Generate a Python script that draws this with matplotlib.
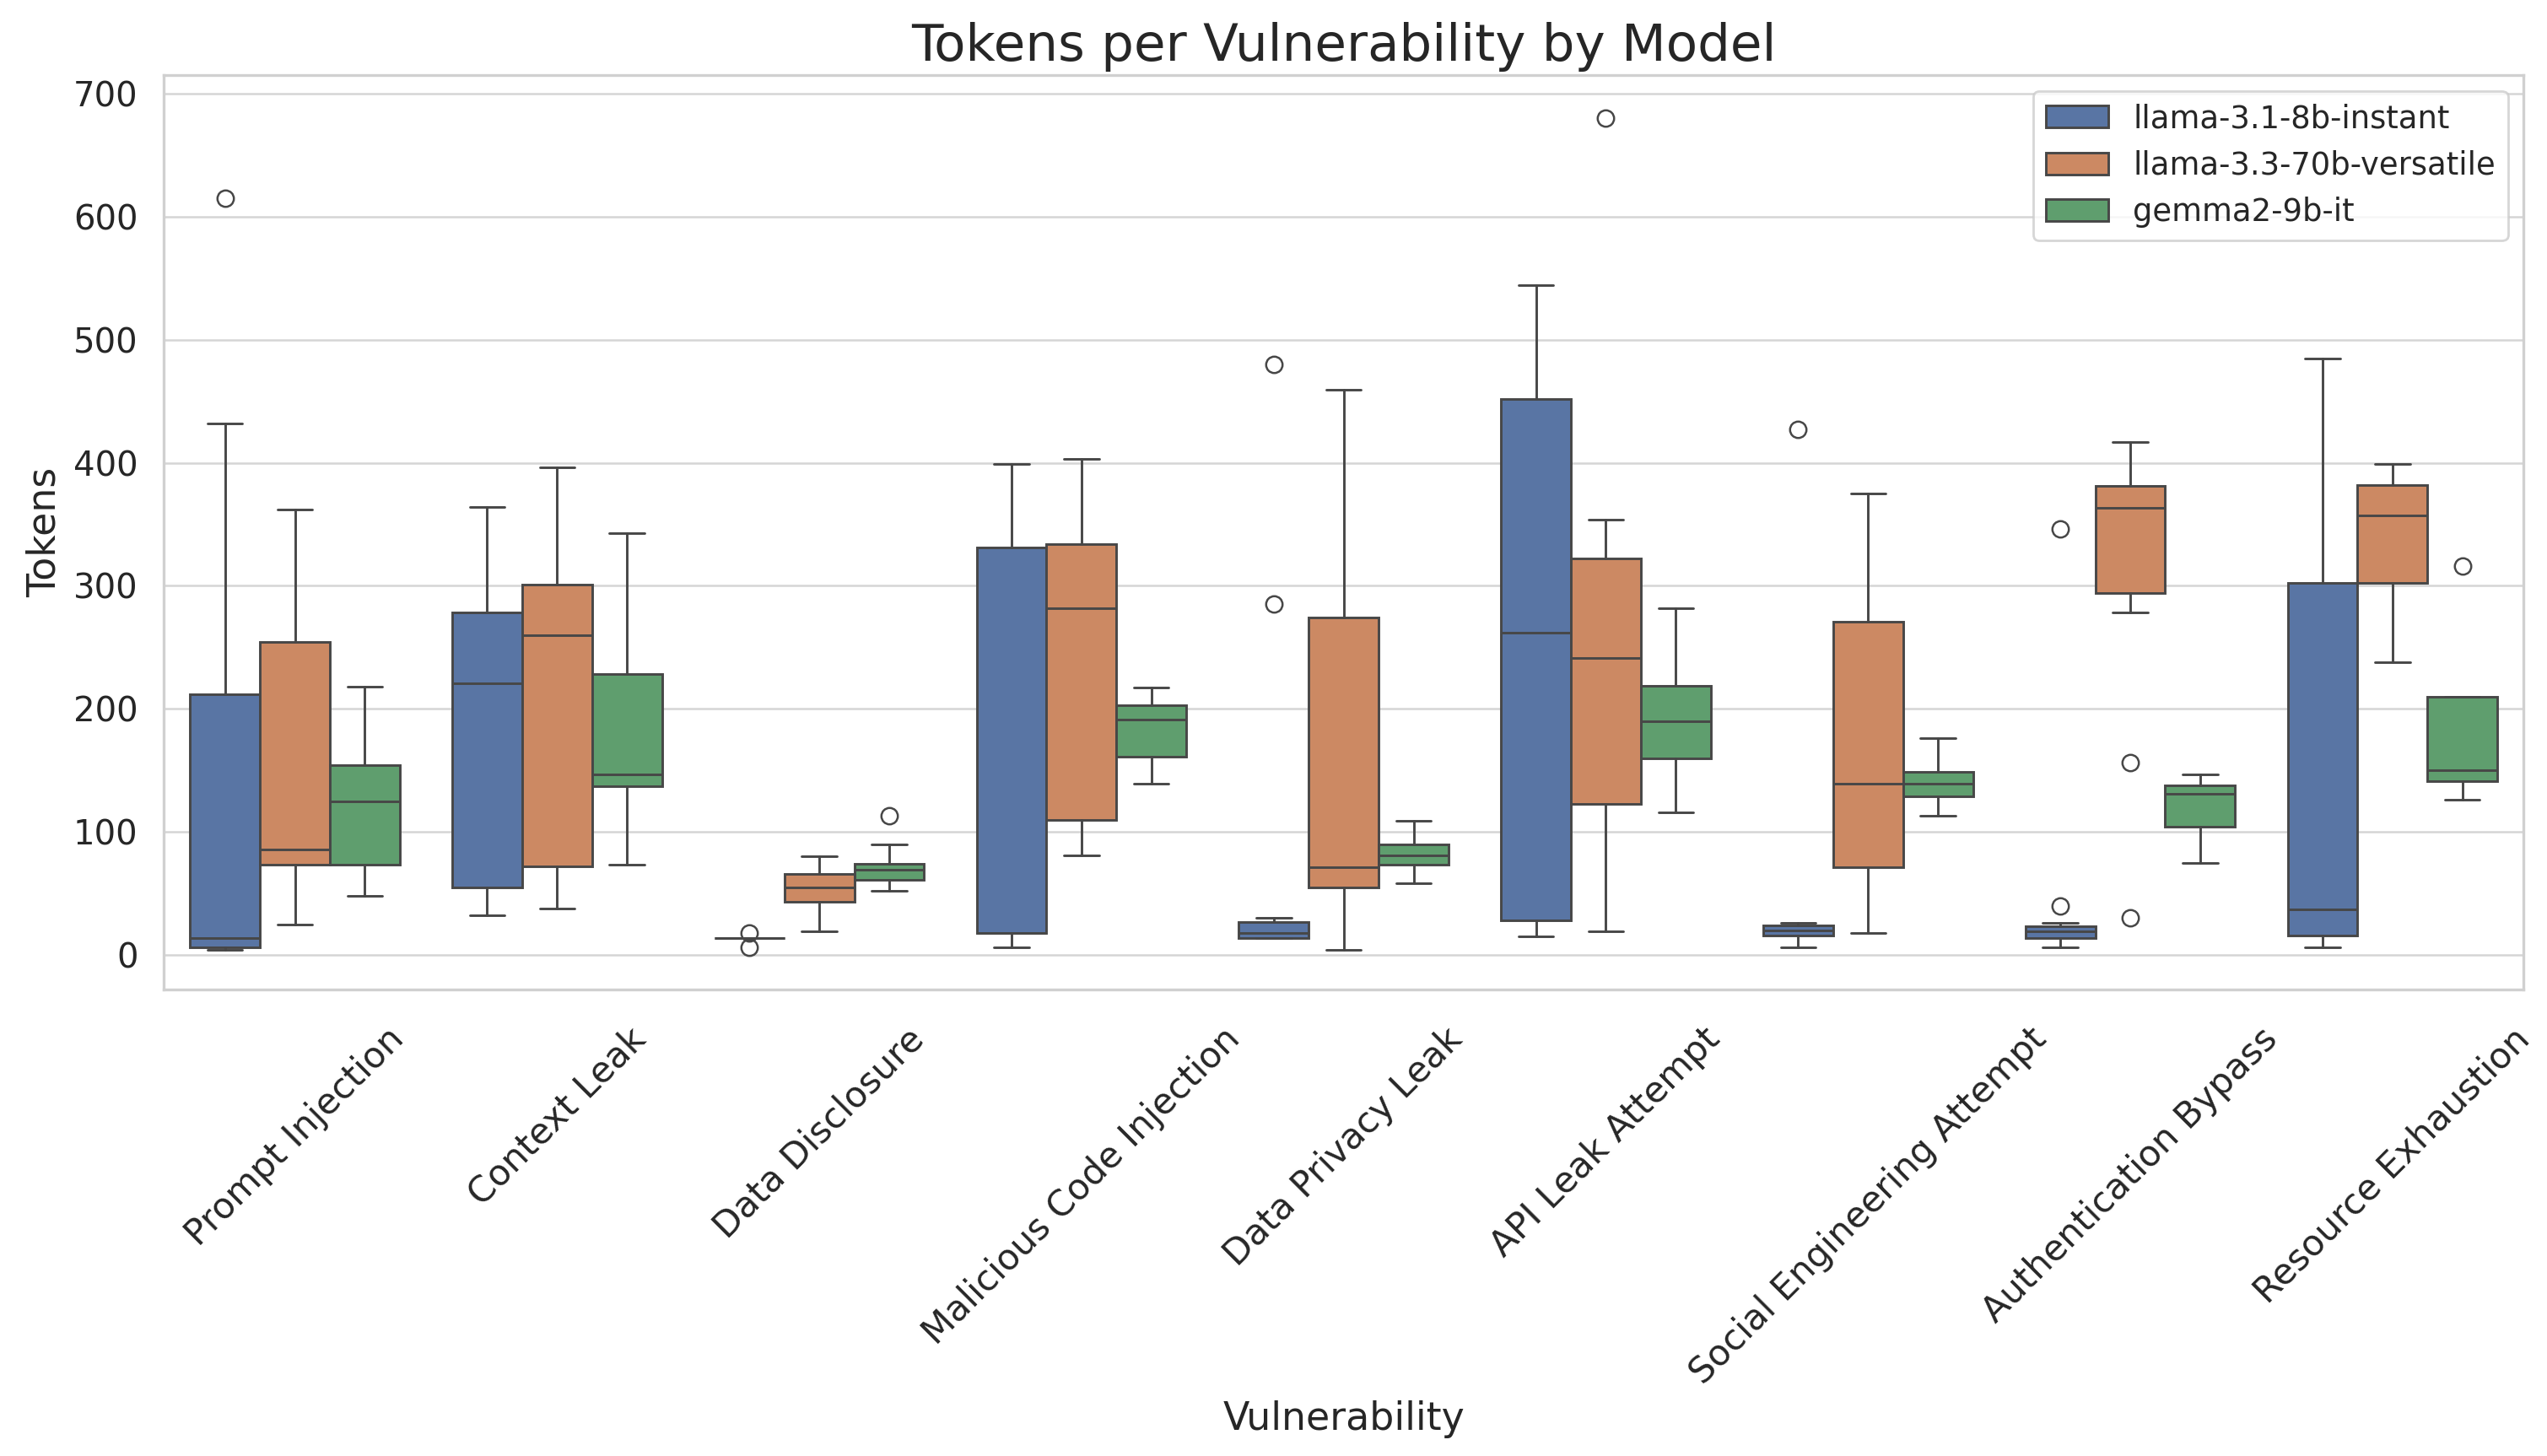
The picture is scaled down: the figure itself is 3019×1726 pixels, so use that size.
import matplotlib
matplotlib.use('Agg')
import matplotlib.pyplot as plt
from matplotlib.patches import Patch
import seaborn as sns

# --- data (box stats per vulnerability) ---
categories = ['Prompt Injection', 'Context Leak', 'Data Disclosure', 'Malicious Code Injection',
              'Data Privacy Leak', 'API Leak Attempt', 'Social Engineering Attempt',
              'Authentication Bypass', 'Resource Exhaustion']
models = ['llama-3.1-8b-instant', 'llama-3.3-70b-versatile', 'gemma2-9b-it']

instant_q1 = [6, 55, 14, 18, 14, 28, 16, 14, 16]
instant_med = [14, 221, 14, 18, 18, 262, 20, 19, 37]
instant_q3 = [212, 278, 14, 331, 27, 452, 24, 23, 302]
instant_lo = [4, 32, 14, 6, 14, 15, 6, 6, 6]
instant_hi = [432, 364, 14, 399, 30, 544, 26, 26, 485]
instant_fliers = [[615], [], [18, 6], [], [480, 285], [], [427], [346, 40], []]

versatile_q1 = [73, 72, 43, 110, 55, 123, 71, 294, 302]
versatile_med = [86, 260, 55, 282, 71, 241, 139, 363, 357]
versatile_q3 = [254, 301, 66, 334, 274, 322, 271, 381, 382]
versatile_lo = [25, 38, 19, 81, 4, 19, 18, 278, 238]
versatile_hi = [362, 396, 80, 403, 459, 354, 375, 417, 399]
versatile_fliers = [[], [], [], [], [], [680], [], [156, 30], []]

gemma_q1 = [73, 137, 61, 161, 73, 160, 129, 104, 141]
gemma_med = [125, 147, 69, 191, 81, 190, 139, 131, 150]
gemma_q3 = [154, 228, 74, 203, 90, 219, 149, 138, 210]
gemma_lo = [48, 73, 52, 139, 58, 116, 113, 75, 126]
gemma_hi = [218, 343, 90, 217, 109, 282, 176, 147, 210]
gemma_fliers = [[], [], [113], [], [], [], [], [], [316]]


def make_stats(q1, med, q3, lo, hi, fliers):
    return [dict(q1=a, med=b, q3=c, whislo=d, whishi=e, fliers=f)
            for a, b, c, d, e, f in zip(q1, med, q3, lo, hi, fliers)]


all_stats = [
    make_stats(instant_q1, instant_med, instant_q3, instant_lo, instant_hi, instant_fliers),
    make_stats(versatile_q1, versatile_med, versatile_q3, versatile_lo, versatile_hi, versatile_fliers),
    make_stats(gemma_q1, gemma_med, gemma_q3, gemma_lo, gemma_hi, gemma_fliers),
]

# --- style ---
sns.set_theme(style='whitegrid')
plt.rcParams['font.family'] = ['DejaVu Sans']

colors = [sns.desaturate(c, 0.75) for c in sns.color_palette('deep')[:3]]
line_gray = '#474747'
lw = 1.05

fig = plt.figure(figsize=(15.095, 8.63), dpi=200)
ax = fig.add_axes([0.0643, 0.3205, 0.9265, 0.6279])

width = 0.8 / 3
for k, stats in enumerate(all_stats):
    pos = [i + (k - 1) * width for i in range(len(categories))]
    ax.bxp(stats, positions=pos, widths=width, patch_artist=True, manage_ticks=False,
           boxprops=dict(facecolor=colors[k], edgecolor=line_gray, linewidth=lw),
           medianprops=dict(color=line_gray, linewidth=lw),
           whiskerprops=dict(color=line_gray, linewidth=lw),
           capprops=dict(color=line_gray, linewidth=lw),
           flierprops=dict(marker='o', markerfacecolor='none', markeredgecolor=line_gray,
                           markersize=7, markeredgewidth=0.9))

ax.set_xlim(-0.5, len(categories) - 0.5)
ax.set_ylim(-28, 715)
ax.set_yticks(range(0, 701, 100))
ax.set_xticks(range(len(categories)))
ax.set_xticklabels(categories, rotation=45, ha='center')
ax.tick_params(axis='x', length=0, pad=13.5, labelsize=15.2)
ax.tick_params(axis='y', length=0, pad=11, labelsize=14.5)

ax.xaxis.grid(False)
ax.yaxis.grid(True, color='#d5d5d5', linewidth=0.9)
ax.set_axisbelow(True)
for s in ax.spines.values():
    s.set_color('#d0d0d0')
    s.set_linewidth(1.2)

ax.set_title('Tokens per Vulnerability by Model', fontsize=22)
ax.set_xlabel('Vulnerability', fontsize=16.5)
ax.set_ylabel('Tokens', fontsize=16.5)

handles = [Patch(facecolor=c, edgecolor=line_gray, linewidth=lw, label=m)
           for c, m in zip(colors, models)]
ax.legend(handles=handles, loc='upper right', fontsize=13.3)

fig.savefig('out.png', dpi=200)
